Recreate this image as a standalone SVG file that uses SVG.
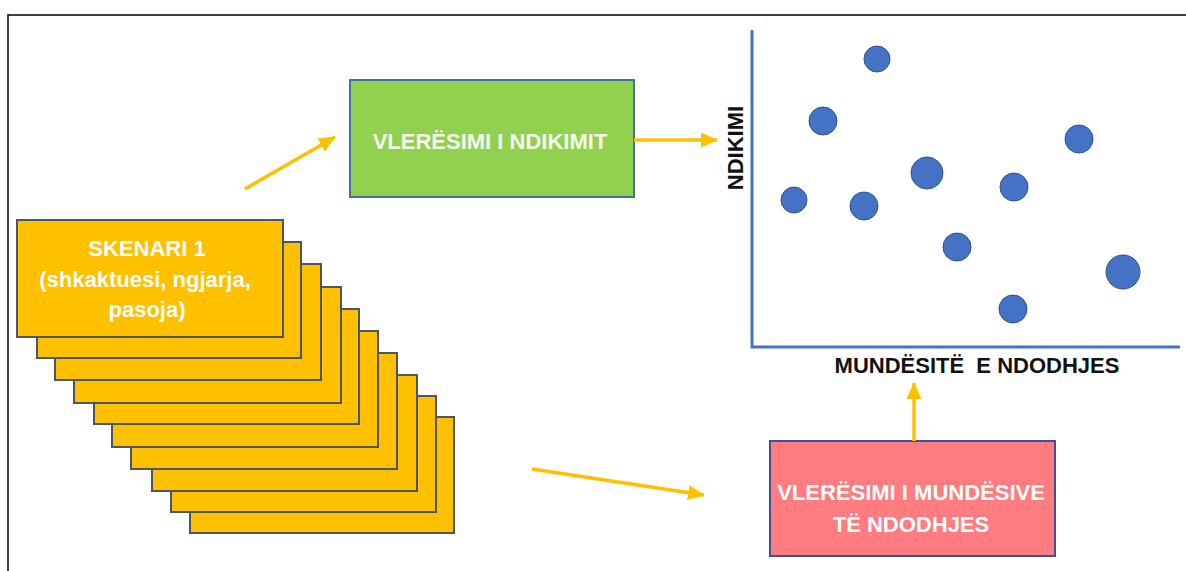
<svg xmlns="http://www.w3.org/2000/svg" width="1186" height="571" viewBox="0 0 1186 571">
<defs>
<style>
.scn{fill:#FFC000;stroke:#4A5568;stroke-width:2}
.lbl{font-family:"Liberation Sans",Arial,sans-serif;font-weight:bold;font-size:22px;text-anchor:middle;dominant-baseline:central}
.wt{fill:#FFFFFF}
.bk{fill:#111111}
.con{stroke:#FFC000;stroke-width:3.5;fill:none;marker-end:url(#ah)}
.dot{fill:#4472C4;stroke:#2F528F;stroke-width:1}
.axis{stroke:#4472C4;stroke-width:3;fill:none}
</style>
<marker id="ah" markerUnits="userSpaceOnUse" markerWidth="18" markerHeight="18" viewBox="0 0 18 18" refX="16" refY="9" orient="auto">
<path d="M0,1.5 L17,9 L0,16.5 Z" fill="#FFC000"/>
</marker>
</defs>
<rect width="1186" height="571" fill="#FFFFFF"/>
<path d="M8,571 L8,15 L1186,15" fill="none" stroke="#000000" stroke-width="1.5"/>

<g id="scenarios">
<rect class="scn" x="190" y="417" width="264" height="116"/>
<rect class="scn" x="171" y="396" width="265" height="116"/>
<rect class="scn" x="152" y="375" width="265" height="116"/>
<rect class="scn" x="131" y="353" width="266" height="116"/>
<rect class="scn" x="112" y="331" width="266" height="116"/>
<rect class="scn" x="94" y="309" width="265" height="115"/>
<rect class="scn" x="74" y="287" width="267" height="116"/>
<rect class="scn" x="55" y="264" width="266" height="116"/>
<rect class="scn" x="37" y="242" width="264" height="116"/>
<rect class="scn" x="17" y="220" width="266" height="117"/>
<text class="lbl wt" x="147" y="248">SKENARI 1</text>
<text class="lbl wt" x="145" y="279">(shkaktuesi, ngjarja,</text>
<text class="lbl wt" x="147" y="309">pasoja)</text>
</g>

<g id="impact">
<rect x="350" y="80" width="284" height="117" fill="#92D050" stroke="#41719C" stroke-width="2"/>
<text class="lbl" fill="#F4FBEF" x="490" y="141">VLERËSIMI I NDIKIMIT</text>
</g>

<g id="likelihood">
<rect x="770" y="441" width="285" height="115" fill="#FF7C80" stroke="#3F4FA0" stroke-width="2"/>
<text class="lbl wt" x="911" y="492">VLERËSIMI I MUNDËSIVE</text>
<text class="lbl wt" x="911" y="524">TË NDODHJES</text>
</g>

<g id="chart">
<path class="axis" d="M752,30 L752,347 L1180,347"/>
<text class="lbl bk" transform="translate(735,148) rotate(-90)">NDIKIMI</text>
<text class="lbl bk" x="977" y="365" xml:space="preserve">MUNDËSITË  E NDODHJES</text>
<circle class="dot" cx="877" cy="59" r="13"/>
<circle class="dot" cx="823" cy="121" r="14"/>
<circle class="dot" cx="794" cy="200" r="13"/>
<circle class="dot" cx="864" cy="206" r="14"/>
<circle class="dot" cx="927" cy="173" r="16"/>
<circle class="dot" cx="1014" cy="187" r="14"/>
<circle class="dot" cx="1079" cy="139" r="14"/>
<circle class="dot" cx="957" cy="247" r="14"/>
<circle class="dot" cx="1013" cy="309" r="14"/>
<circle class="dot" cx="1123" cy="272" r="17"/>
</g>

<g id="connectors">
<path class="con" d="M245,189 L335,137"/>
<path class="con" d="M634,140 L717,140"/>
<path class="con" d="M532,469 L704,495"/>
<path class="con" d="M914,441 L914,383"/>
</g>
</svg>
